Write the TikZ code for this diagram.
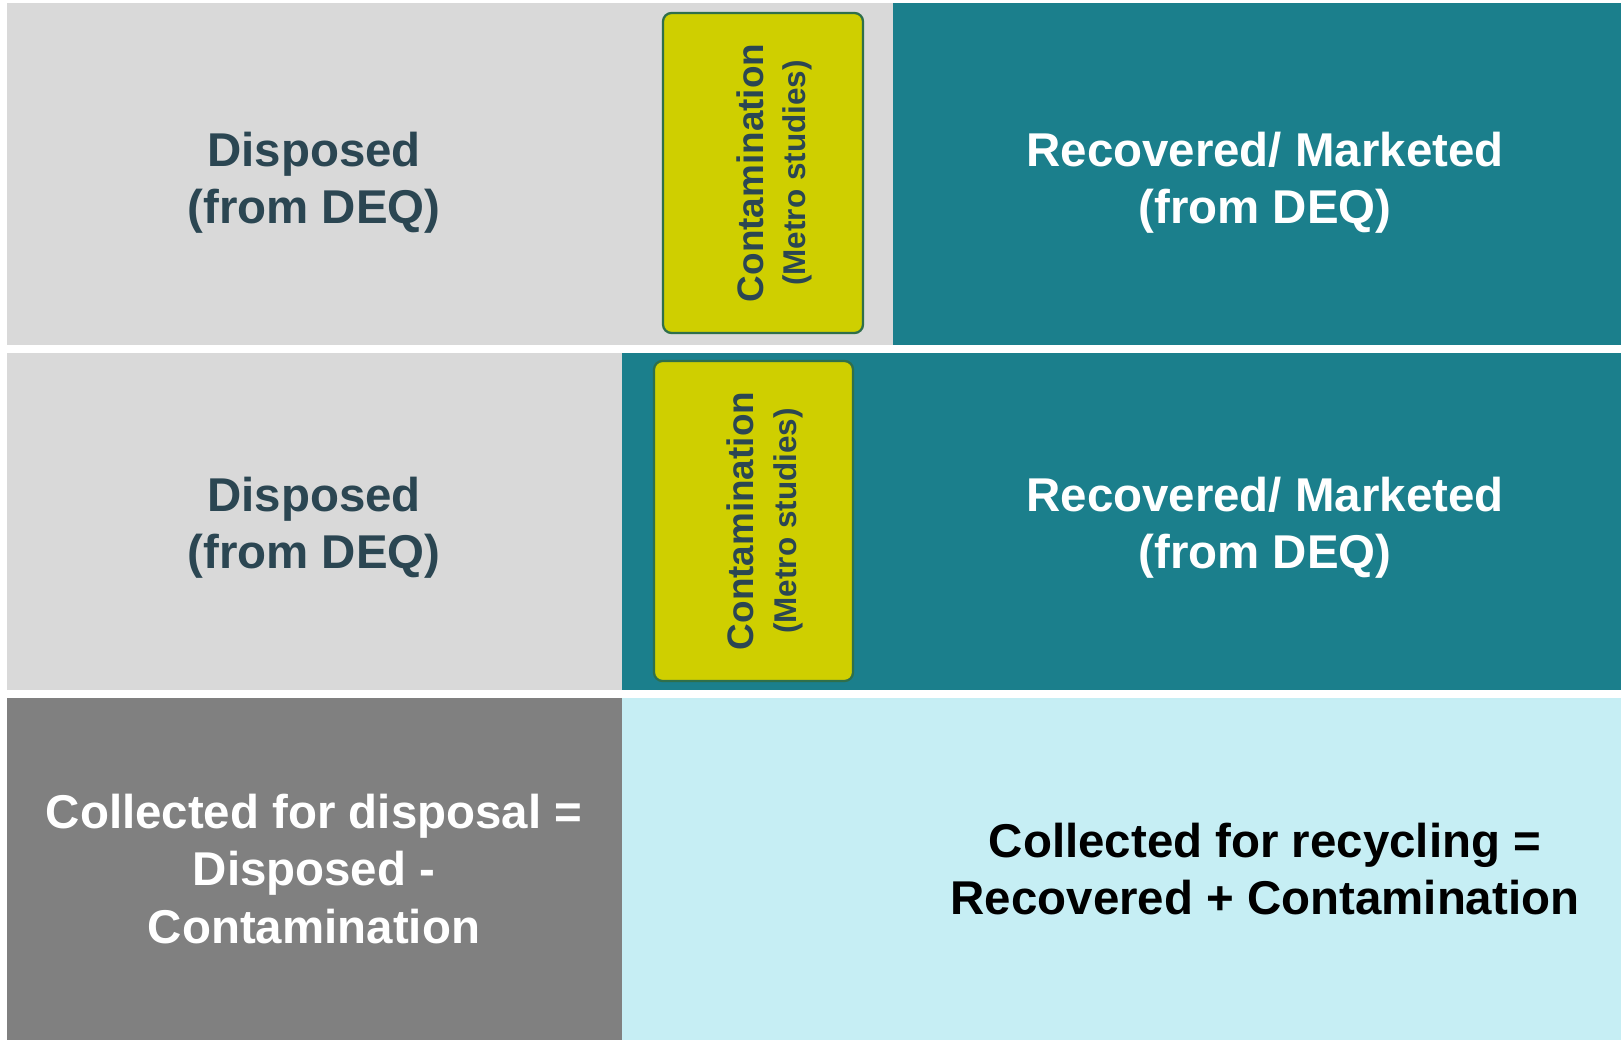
\documentclass[tikz,border=0pt]{standalone}
\usepackage{fontspec}
\setmainfont{Liberation Sans}
\usepackage{tikz}

\definecolor{lightgrey}{HTML}{D9D9D9}
\definecolor{darkgrey}{HTML}{808080}
\definecolor{tealbar}{HTML}{1B7F8C}
\definecolor{paleblue}{HTML}{C6EEF4}
\definecolor{contamfill}{HTML}{CFCF00}
\definecolor{contamline}{HTML}{2F6F4B}
\definecolor{slatetext}{HTML}{2B4652}

\begin{document}
\begin{tikzpicture}[x=0.02cm, y=-0.02cm,
    bigtext/.style={font=\bfseries\fontsize{27pt}{32.6pt}\selectfont, align=center, inner sep=0pt},
    contambox/.style={fill=contamfill, draw=contamline, line width=1.3pt, rounded corners=0.17cm},
    contamtext/.style={font=\bfseries\fontsize{21pt}{25pt}\selectfont, text=slatetext, rotate=90, anchor=base, inner sep=0pt},
    metrotext/.style={font=\bfseries\fontsize{17.9pt}{21pt}\selectfont, text=slatetext, rotate=90, anchor=base, inner sep=0pt}]
    % Page size
    \useasboundingbox (0,0) rectangle (1621,1040);

    % Draw first row
    \fill[lightgrey] (7,3) rectangle (893,345);
    \fill[tealbar] (893,3) rectangle (1621,345);
    \draw[contambox] (663,13) rectangle (863,333);
    \node[bigtext, text=slatetext] (disposedA) at (314,183) {Disposed\\(from DEQ)};
    \node[bigtext, text=white] (recoveredA) at (1265,183) {Recovered/ Marketed\\(from DEQ)};
    \node[contamtext] (contamA) at (763,173) {Contamination};
    \node[metrotext] (metroA) at (805,173) {(Metro studies)};

    % Draw second row
    \fill[lightgrey] (7,353) rectangle (622,690);
    \fill[tealbar] (622,353) rectangle (1621,690);
    \draw[contambox] (654,361) rectangle (853,681);
    \node[bigtext, text=slatetext] (disposedB) at (314,528) {Disposed\\(from DEQ)};
    \node[bigtext, text=white] (recoveredB) at (1265,528) {Recovered/ Marketed\\(from DEQ)};
    \node[contamtext] (contamB) at (753,521) {Contamination};
    \node[metrotext] (metroB) at (796,521) {(Metro studies)};

    % Draw third row
    \fill[darkgrey] (7,698) rectangle (622,1040);
    \fill[paleblue] (622,698) rectangle (1621,1040);
    \node[bigtext, text=white] (disposal) at (314,869) {Collected for disposal =\\Disposed -\\Contamination};
    \node[bigtext, text=black] (recycling) at (1265,869) {Collected for recycling =\\Recovered + Contamination};
\end{tikzpicture}
\end{document}
